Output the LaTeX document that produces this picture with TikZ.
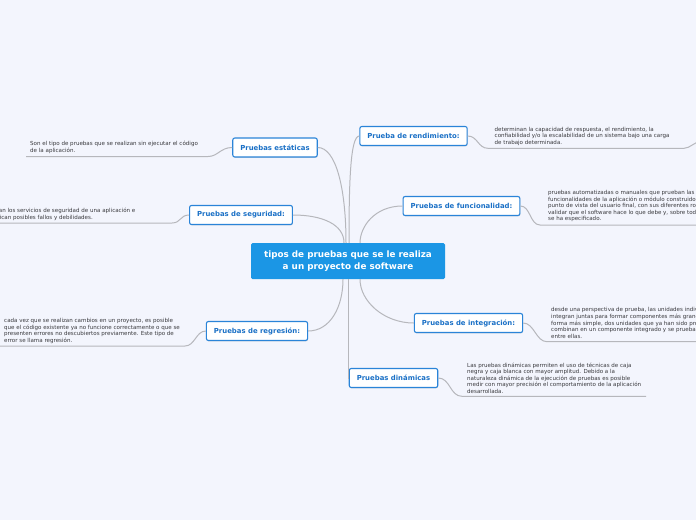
\documentclass[tikz,border=0pt]{standalone}
\usepackage{fontspec}
\setmainfont{DejaVu Sans}
\usepackage{tikz}
\usetikzlibrary{shadows}

\definecolor{fondo}{HTML}{F3F5FD}
\definecolor{raizazul}{HTML}{1B96E5}
\definecolor{ramaborde}{HTML}{2A84D8}
\definecolor{ramatexto}{HTML}{1A70C6}
\definecolor{hojatexto}{HTML}{3A3A3E}
\definecolor{lineagris}{HTML}{B6B7BC}

\tikzset{
  raiz/.style={fill=raizazul, rounded corners=1.5pt, text=white, align=center,
    font=\fontsize{8.8}{12}\selectfont\bfseries, minimum width=194pt, minimum height=36pt},
  rama/.style={draw=ramaborde, line width=1.1pt, fill=white, rounded corners=2pt,
    text=ramatexto, font=\fontsize{6.9}{7.5}\selectfont\bfseries, inner xsep=7.5pt,
    minimum height=19pt,
    drop shadow={shadow xshift=0.4pt, shadow yshift=-0.9pt, opacity=0.25}},
  hoja/.style={anchor=north west, inner sep=0pt, align=left, text=hojatexto,
    font=\fontsize{5.55}{6.6}\selectfont},
  enlace/.style={draw=lineagris, line width=1pt},
}

\begin{document}
\begin{tikzpicture}[x=1pt,y=-1pt]
  \fill[fondo] (0,0) rectangle (696,520);
  \useasboundingbox (0,0) rectangle (696,520);
  \clip (0,0) rectangle (696,520);

  % nodo central y ramas
  \node[raiz] (raiz) at (348,261) {tipos de pruebas que se le realiza\\a un proyecto de software};

  \node[rama] (estaticas) at (275,147.5) {Pruebas estáticas};
  \node[rama] (rendim) at (413.5,136) {Prueba de rendimiento:};
  \node[rama] (seguridad) at (241,215) {Pruebas de seguridad:};
  \node[rama] (funcional) at (461.5,206) {Pruebas de funcionalidad:};
  \node[rama] (regresion) at (257,331) {Pruebas de regresión:};
  \node[rama] (integracion) at (468.5,323) {Pruebas de integración:};
  \node[rama] (dinamicas) at (393.5,378) {Pruebas dinámicas};

  % textos de las hojas
  \node[hoja] (tEst) at (30,141.3) {Son el tipo de pruebas que se realizan sin ejecutar el código\\de la aplicación.};
  \node[hoja] (tSeg) at (-18,208.1) {Analizan los servicios de seguridad de una aplicación e\\identifican posibles fallos y debilidades.};
  \node[hoja] (tRen) at (494.5,126.6) {determinan la capacidad de respuesta, el rendimiento, la\\confiabilidad y/o la escalabilidad de un sistema bajo una carga\\de trabajo determinada.};
  \node[hoja] (tFun) at (548,190) {pruebas automatizadas o manuales que prueban las\\funcionalidades de la aplicación o módulo construidos desde el\\punto de vista del usuario final, con sus diferentes roles, para\\validar que el software hace lo que debe y, sobre todo, lo que\\se ha especificado.};
  \node[hoja] (tReg) at (4,318) {cada vez que se realizan cambios en un proyecto, es posible\\que el código existente ya no funcione correctamente o que se\\presenten errores no descubiertos previamente. Este tipo de\\error se llama regresión.};
  \node[hoja] (tInt) at (551,307.4) {desde una perspectiva de prueba, las unidades individuales se\\integran juntas para formar componentes más grandes. En su\\forma más simple, dos unidades que ya han sido probadas se\\combinan en un componente integrado y se prueba la interfaz\\entre ellas.};
  \node[hoja] (tDin) at (467,362.4) {Las pruebas dinámicas permiten el uso de técnicas de caja\\negra y caja blanca con mayor amplitud. Debido a la\\naturaleza dinámica de la ejecución de pruebas es posible\\medir con mayor precisión el comportamiento de la aplicación\\desarrollada.};

  % enlaces raiz - ramas
  \draw[enlace] (estaticas.east) .. controls +(18,0) and +(0,-55) .. ([xshift=-2pt]raiz.north);
  \draw[enlace] (rendim.west) .. controls +(-9,0) and +(0,-60) .. ([xshift=1pt]raiz.north);
  \draw[enlace] (seguridad.east) .. controls +(30,0) and +(0,-18) .. ([xshift=-4pt]raiz.north);
  \draw[enlace] (funcional.west) .. controls +(-28,0) and +(0,-16) .. ([xshift=12pt]raiz.north);
  \draw[enlace] (regresion.east) .. controls +(22,0) and +(0,28) .. ([xshift=-5pt]raiz.south);
  \draw[enlace] (integracion.west) .. controls +(-30,0) and +(0,22) .. ([xshift=12pt]raiz.south);
  \draw[enlace] (raiz.south) |- (dinamicas.west);

  % enlaces ramas - hojas
  \coordinate (uEst) at (208,156.5);
  \coordinate (uSeg) at (172,223);
  \coordinate (uRen) at (488,148.3);
  \coordinate (uRen2) at (684,148.3);
  \coordinate (uRen3) at (700,142);
  \coordinate (uFun) at (540,225);
  \coordinate (uReg) at (185,346);
  \coordinate (uInt) at (547,341.7);
  \coordinate (uDin) at (462,396.3);

  \draw[enlace] (estaticas.west) .. controls +(-12,0) and +(10,0) .. (uEst) -- (26,156.5);
  \draw[enlace] (seguridad.west) .. controls +(-9,0) and +(9,0) .. (uSeg) -- (-5,223);
  \draw[enlace] (rendim.east) .. controls +(10,0) and +(-10,0) .. (uRen) -- (uRen2)
    .. controls +(6,0) and +(-6,0) .. (uRen3);
  \draw[enlace] (funcional.east) .. controls +(10,0) and +(-10,0) .. (uFun) -- (700,225);
  \draw[enlace] (regresion.west) .. controls +(-10,0) and +(10,0) .. (uReg) -- (-5,346);
  \draw[enlace] (integracion.east) .. controls +(11,0) and +(-11,0) .. (uInt) -- (700,341.7);
  \draw[enlace] (dinamicas.east) .. controls +(12,0) and +(-12,0) .. (uDin) -- (646,396.3);
\end{tikzpicture}
\end{document}
